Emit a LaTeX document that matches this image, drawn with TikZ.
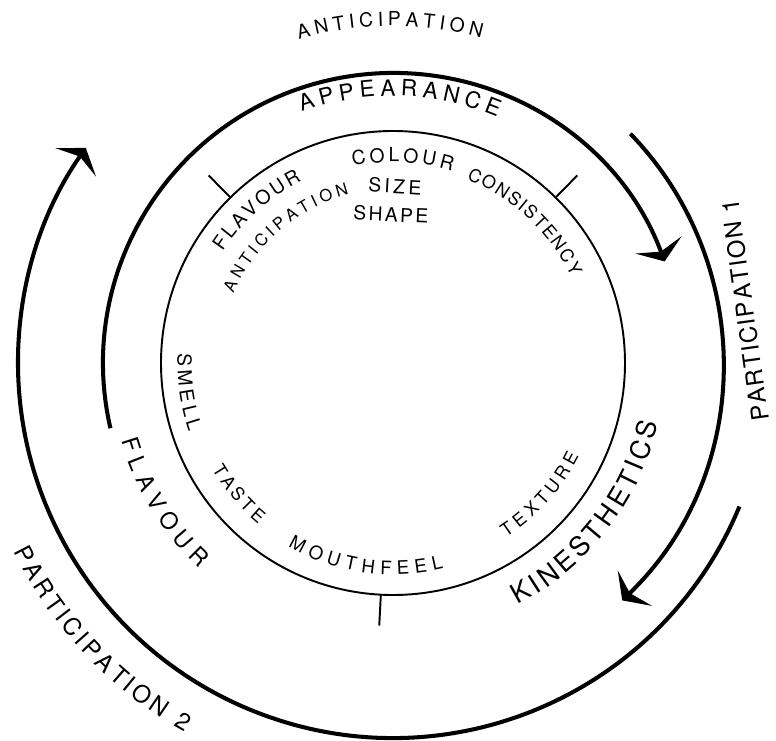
\documentclass[tikz,border=0pt]{standalone}
\usepackage{fontspec}
\setsansfont{TeX Gyre Heros}
\usetikzlibrary{
  arrows.meta,
  decorations.text,
}

\tikzset{
  wheel/.style={line width=1.1pt},
  phase/.style={line width=2.3pt, -{Stealth[length=10pt, width=28pt, inset=4pt]}},
  arclabel/.style 2 args={decorate, decoration={text along path,
      text align={fit to path}, text={|\sffamily\fontsize{#1}{#1}\selectfont|#2}}},
}

\begin{document}
\begin{tikzpicture}[x=0.02cm, y=0.02cm]
  \useasboundingbox (-393,-377) rectangle (383,363);
  \coordinate (O) at (0,0);

  % inner wheel and its ticks
  \draw [wheel] (O) circle [radius=232];
  \foreach \a in {45.5,134.5,267}
    \draw [wheel] (\a:232) -- (\a:263);

  % the three phases
  \draw [phase] (193:290) arc [start angle=193, end angle=20.5, radius=290];
  \draw [phase] (44:330) arc [start angle=44, end angle=-46, radius=330];
  \draw [phase] (-22.5:375) arc [start angle=-22.5, end angle=-215, radius=375];

  % outer labels
  \path [arclabel={11pt}{ANTICIPATION}] (106.2:337) arc [start angle=106.2, end angle=74.8, radius=337];
  \path [arclabel={13.6pt}{PARTICIPATION 1}] (376,-56.9) -- (345.4,165);
  \path [arclabel={13.6pt}{PARTICIPATION 2}] (206.4:424) arc [start angle=206.4, end angle=240.6, radius=424];

  % ring labels
  \path [arclabel={12.8pt}{APPEARANCE}] (110:267) arc [start angle=110, end angle=67, radius=267];
  \path [arclabel={13.2pt}{FLAVOUR}] (196:282.5) arc [start angle=196, end angle=226.7, radius=282.5];
  \path [arclabel={15.3pt}{KINESTHETICS}] (297.3:272) arc [start angle=297.3, end angle=347.2, radius=272];

  % inner labels
  \path [arclabel={11pt}{COLOUR}] (101.5:201) arc [start angle=101.5, end angle=72.9, radius=201];
  \path [arclabel={10.2pt}{CONSISTENCY}] (68.2:198) arc [start angle=68.2, end angle=25.8, radius=198];
  \path [arclabel={11pt}{FLAVOUR}] (146.8:203.5) arc [start angle=146.8, end angle=116.7, radius=203.5];
  \path [arclabel={9.4pt}{ANTICIPATION}] (156.4:174) arc [start angle=156.4, end angle=104.6, radius=174];
  \path [arclabel={11pt}{SIZE}] (-25,171) -- (28,168);
  \path [arclabel={11pt}{SHAPE}] (-40,143) -- (35,139.7);
  \path [arclabel={11pt}{SMELL}] (177.6:215.5) arc [start angle=177.6, end angle=198.7, radius=215.5];
  \path [arclabel={10.2pt}{TASTE}] (210.4:209.8) arc [start angle=210.4, end angle=230.1, radius=209.8];
  \path [arclabel={10.6pt}{MOUTHFEEL}] (240.2:211.5) arc [start angle=240.2, end angle=283.8, radius=211.5];
  \path [arclabel={10.2pt}{TEXTURE}] (303:207.8) arc [start angle=303, end angle=333.5, radius=207.8];
\end{tikzpicture}
\end{document}
